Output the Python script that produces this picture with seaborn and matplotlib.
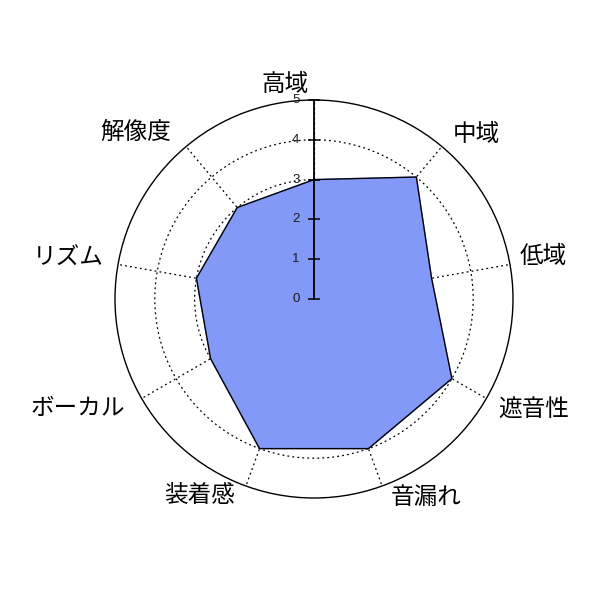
import numpy as np
import matplotlib
matplotlib.use("Agg")
import matplotlib.pyplot as plt
import seaborn as sns

# ------------------------------------------------------------
# data
# ------------------------------------------------------------
categories = ['高域', '中域', '低域', '遮音性', '音漏れ', '装着感', 'ボーカル', 'リズム', '解像度']
scores = [3, 4, 3, 4, 4, 4, 3, 3, 3]
scale_ticks = [0, 1, 2, 3, 4, 5]

# label placement (compass degrees, radius in score units) - layout only
label_theta_deg = [352.3, 44.5, 79.4, 116.8, 150.5, 210.2, 245.2, 279.5, 313.0]
label_r = [5.43, 5.81, 5.85, 6.19, 5.72, 5.70, 6.53, 6.27, 6.12]

sns.set_style("white")
plt.rcParams['font.family'] = ['Noto Sans CJK JP', 'DejaVu Sans']

fig = plt.figure(figsize=(6, 6), dpi=100)
# circle of radius 199px centred at (314, 299) from top-left
ax = fig.add_axes([115 / 600, 102 / 600, 398 / 600, 398 / 600], projection='polar')
ax.set_theta_offset(np.pi / 2)
ax.set_theta_direction(-1)
ax.set_ylim(0, 5)

n = len(categories)
theta = np.arange(n) * 2 * np.pi / n

ax.set_xticks(theta)
ax.set_xticklabels([])
ax.set_yticks([1, 2, 3, 4])
ax.set_yticklabels([])
ax.set_axisbelow(True)
ax.xaxis.grid(True, linestyle=(0, (1.5, 2.5)), color='black', lw=0.9)
ax.yaxis.grid(True, linestyle=(0, (1.5, 2.5)), color='black', lw=0.9)
ax.spines['polar'].set_color('black')
ax.spines['polar'].set_linewidth(1.0)
ax.set_facecolor('white')

# filled polygon
th_closed = np.append(theta, theta[0])
sc_closed = np.append(scores, scores[0])
ax.fill(th_closed, sc_closed, color='#8299F7', zorder=2)
sns.lineplot(x=th_closed, y=sc_closed, sort=False, estimator=None,
             color='black', lw=1.0, ax=ax, zorder=3)

# vertical scale axis with ticks
ax.plot([0, 0], [0, 5], color='black', lw=1.3, zorder=4, clip_on=False)
ax.plot(np.zeros(len(scale_ticks)), scale_ticks, ls='none', marker='_',
        markersize=8, markeredgewidth=1.1, color='black', zorder=4, clip_on=False)
for v in scale_ticks:
    ax.annotate(str(v), xy=(0, v), xytext=(-10.5, 0), textcoords='offset points',
                ha='right', va='center', fontsize=9.5, color='#1a1a1a',
                family=['Liberation Sans', 'DejaVu Sans'], zorder=5)

# category labels
for lab, tdeg, r in zip(categories, label_theta_deg, label_r):
    ax.text(np.deg2rad(tdeg), r, lab, ha='center', va='center',
            fontsize=17, color='black', clip_on=False)

ax.set_xlabel('')
ax.set_ylabel('')
fig.savefig("out.png", dpi=100, facecolor='white')
